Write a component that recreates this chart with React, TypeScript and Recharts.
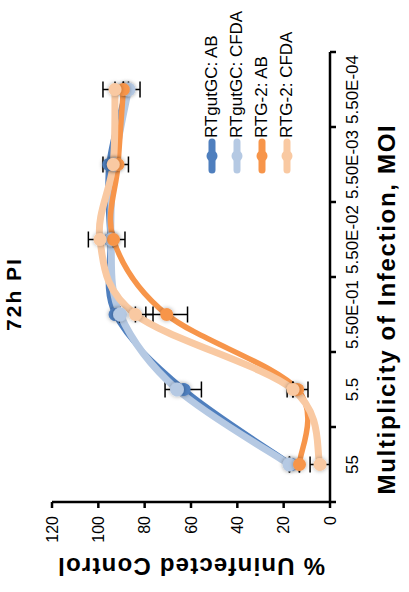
import React from 'react'
import { LineChart, Line, XAxis, YAxis, ErrorBar, Legend } from 'recharts'

// MOI categories, left to right before the figure is turned on its side
const categories = ['55', '5.5', '5.50E-01', '5.50E-02', '5.50E-03', '5.50E-04']

// % of uninfected control
const gutAB = [16.5, 63, 92.8, 95, 95.5, 88]
const gutCFDA = [17.5, 66, 90.6, 94.5, 93, 87]
const rtg2AB = [13.2, 14, 70.5, 93.5, 91.5, 89.2]
const rtg2CFDA = [4.3, 16, 84, 99.3, 93.6, 92.8]

// error bars as [below, above]
const gutCFDAErr = [[0, 0], [10.5, 5.2], [0, 0], [0, 0], [0, 0], [5, 0]]
const rtg2ABErr = [[0, 0], [4.5, 4.5], [9, 9], [5, 0], [4.5, 0], [0, 0]]
const rtg2CFDAErr = [[4.3, 4.3], [0, 0], [7.6, 0], [0, 5], [0, 4.4], [0, 5.2]]

const yTicks = [0, 20, 40, 60, 80, 100, 120]

const legendItems = [
  { name: 'RTgutGC: AB', color: '#4F7FBE' },
  { name: 'RTgutGC: CFDA', color: '#B5C9E3' },
  { name: 'RTG-2: AB', color: '#F7954A' },
  { name: 'RTG-2: CFDA', color: '#F9C9A2' },
]

const data = categories.map((moi, i) => ({
  moi,
  gutAB: gutAB[i],
  gutCFDA: gutCFDA[i],
  gutCFDAErr: gutCFDAErr[i],
  rtg2AB: rtg2AB[i],
  rtg2ABErr: rtg2ABErr[i],
  rtg2CFDA: rtg2CFDA[i],
  rtg2CFDAErr: rtg2CFDAErr[i],
}))

const FONT = '"Liberation Sans", Arial, Helvetica, sans-serif'
const W = 592
const H = 409
const PLOT_LEFT = 90
const PLOT_RIGHT = 540
const PLOT_BOTTOM = 330
const STEP = (PLOT_RIGHT - PLOT_LEFT) / categories.length

// excel-ish smoothed line (catmull-rom through the points)
function smoothCurve(context: any) {
  let pts: number[][] = []
  return {
    areaStart() {},
    areaEnd() {},
    lineStart() {
      pts = []
    },
    point(x: number, y: number) {
      pts.push([+x, +y])
    },
    lineEnd() {
      const n = pts.length
      if (!n) return
      context.moveTo(pts[0][0], pts[0][1])
      for (let i = 0; i < n - 1; i++) {
        const p0 = pts[Math.max(i - 1, 0)]
        const p1 = pts[i]
        const p2 = pts[i + 1]
        const p3 = pts[Math.min(i + 2, n - 1)]
        context.bezierCurveTo(
          p1[0] + (p2[0] - p0[0]) / 6,
          p1[1] + (p2[1] - p0[1]) / 6,
          p2[0] - (p3[0] - p1[0]) / 6,
          p2[1] - (p3[1] - p1[1]) / 6,
          p2[0],
          p2[1]
        )
      }
    },
  }
}

const makeDot = (color: string, r = 6.5) => (props: any) => (
  <circle
    key={`${color}-${props.index}`}
    cx={props.cx}
    cy={props.cy}
    r={r}
    fill={color}
    filter="url(#ptShadow)"
  />
)

const XTick = ({ x, payload, index }: any) => (
  <g>
    <line x1={x - STEP / 2} x2={x - STEP / 2} y1={PLOT_BOTTOM} y2={PLOT_BOTTOM + 6} stroke="#000" strokeWidth={2.5} />
    {index === categories.length - 1 && (
      <line x1={x + STEP / 2} x2={x + STEP / 2} y1={PLOT_BOTTOM} y2={PLOT_BOTTOM + 6} stroke="#000" strokeWidth={2.5} />
    )}
    <text x={x} y={358} textAnchor="middle" fontSize={17} fill="#000" fontFamily={FONT}>
      {payload.value}
    </text>
  </g>
)

const LegendBox = () => (
  <div style={{ fontFamily: FONT, fontSize: 17, color: '#000' }}>
    {legendItems.map((item) => (
      <div key={item.name} style={{ display: 'flex', alignItems: 'center', height: 25 }}>
        <svg width={36} height={14}>
          <line x1={4} x2={32} y1={7} y2={7} stroke={item.color} strokeWidth={7} strokeLinecap="round" />
          <circle cx={18} cy={7} r={5.5} fill={item.color} />
        </svg>
        <span style={{ whiteSpace: 'nowrap' }}>{item.name}</span>
      </div>
    ))}
  </div>
)

export default function App() {
  return (
    <div style={{ position: 'fixed', left: 0, top: 0, width: H, height: W, background: '#fff', overflow: 'hidden' }}>
      <svg width={0} height={0} style={{ position: 'absolute' }}>
        <defs>
          <filter id="ptShadow" x="-60%" y="-60%" width="220%" height="220%">
            <feDropShadow dx={0} dy={0} stdDeviation={2} floodColor="#000" floodOpacity={0.35} />
          </filter>
        </defs>
      </svg>
      <div
        style={{
          position: 'absolute',
          left: 0,
          top: 0,
          width: W,
          height: H,
          transformOrigin: '0 0',
          transform: `translateY(${W}px) rotate(-90deg)`,
        }}
      >
        <div
          style={{
            position: 'absolute',
            left: 198,
            top: 3,
            width: 200,
            textAlign: 'center',
            fontFamily: FONT,
            fontWeight: 'bold',
            fontSize: 21,
            lineHeight: '21px',
            letterSpacing: 2,
            zIndex: 2,
          }}
        >
          72h PI
        </div>
        <LineChart width={W} height={H} data={data} margin={{ top: 52, right: 52, bottom: 49, left: 30 }}>
          <XAxis
            dataKey="moi"
            interval={0}
            padding={{ left: STEP / 2, right: STEP / 2 }}
            axisLine={{ stroke: '#000', strokeWidth: 2.5 }}
            tickLine={false}
            tick={<XTick />}
            label={{
              content: () => (
                <text x={283} y={395} textAnchor="middle" fontSize={24} fontWeight="bold" letterSpacing={1.7} fontFamily={FONT} fill="#000">
                  Multiplicity of Infection, MOI
                </text>
              ),
            }}
          />
          <YAxis
            width={60}
            domain={[0, 120]}
            ticks={yTicks}
            axisLine={{ stroke: '#000', strokeWidth: 2.5 }}
            tickLine={{ stroke: '#000', strokeWidth: 2.5 }}
            tickSize={6}
            tickMargin={8}
            tick={{ fill: '#000', fontSize: 16, fontFamily: FONT }}
            label={{
              content: () => (
                <text
                  x={34}
                  y={191}
                  transform="rotate(-90 34 191)"
                  textAnchor="middle"
                  fontSize={24}
                  fontWeight="bold"
                  letterSpacing={1.2}
                  fontFamily={FONT}
                  fill="#000"
                >
                  % Uninfected Control
                </text>
              ),
            }}
          />
          <Legend
            layout="vertical"
            align="center"
            verticalAlign="middle"
            wrapperStyle={{ left: 418, top: 199, width: 170 }}
            content={() => <LegendBox />}
          />
          <Line
            dataKey="gutAB"
            name="RTgutGC: AB"
            type={smoothCurve as any}
            stroke={legendItems[0].color}
            strokeWidth={5}
            dot={makeDot(legendItems[0].color)}
            activeDot={false}
            isAnimationActive={false}
          />
          <Line
            dataKey="gutCFDA"
            name="RTgutGC: CFDA"
            type={smoothCurve as any}
            stroke={legendItems[1].color}
            strokeWidth={7}
            dot={makeDot(legendItems[1].color, 7)}
            activeDot={false}
            isAnimationActive={false}
          >
            <ErrorBar dataKey="gutCFDAErr" width={8} stroke="#000" strokeWidth={1.5} direction="y" />
          </Line>
          <Line
            dataKey="rtg2AB"
            name="RTG-2: AB"
            type={smoothCurve as any}
            stroke={legendItems[2].color}
            strokeWidth={5.5}
            dot={makeDot(legendItems[2].color)}
            activeDot={false}
            isAnimationActive={false}
          >
            <ErrorBar dataKey="rtg2ABErr" width={8} stroke="#000" strokeWidth={1.5} direction="y" />
          </Line>
          <Line
            dataKey="rtg2CFDA"
            name="RTG-2: CFDA"
            type={smoothCurve as any}
            stroke={legendItems[3].color}
            strokeWidth={7}
            dot={makeDot(legendItems[3].color)}
            activeDot={false}
            isAnimationActive={false}
          >
            <ErrorBar dataKey="rtg2CFDAErr" width={8} stroke="#000" strokeWidth={1.5} direction="y" />
          </Line>
        </LineChart>
      </div>
    </div>
  )
}
